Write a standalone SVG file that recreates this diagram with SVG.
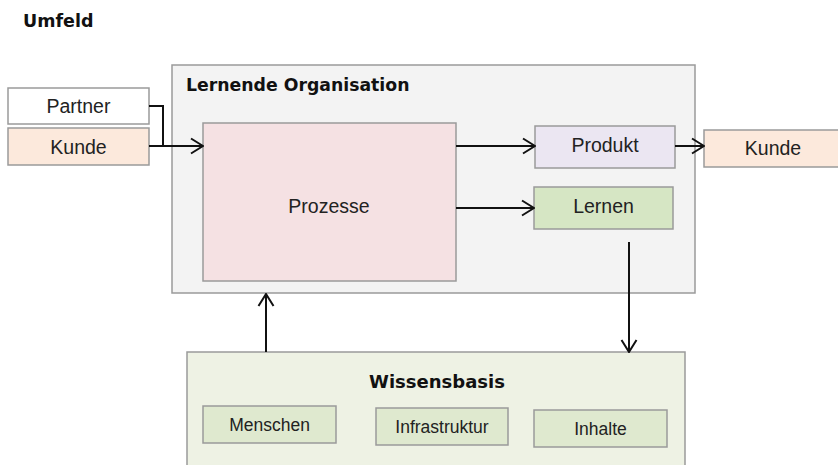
<svg xmlns="http://www.w3.org/2000/svg" width="838" height="465" viewBox="0 0 838 465">
<style>
.box{stroke:#9a9a9a;stroke-width:1.5}
.lbl{font-family:"Liberation Sans",Arial,sans-serif;font-size:19.5px;fill:#222;text-anchor:middle}
.sm{font-size:17.5px}
.ttl{font-family:"DejaVu Sans",Verdana,sans-serif;font-weight:bold;fill:#111}
.con{fill:none;stroke:#111;stroke-width:2}
</style>
<defs>
<marker id="ah" viewBox="0 0 14 18" refX="13" refY="9" markerWidth="14" markerHeight="18" markerUnits="userSpaceOnUse" orient="auto">
<path d="M1,1.5 L13,9 L1,16.5" fill="none" stroke="#111" stroke-width="2"/>
</marker>
</defs>
<rect width="838" height="465" fill="#fff"/>
<text class="ttl" x="23" y="27" font-size="17.5">Umfeld</text>
<g id="org">
<rect class="box" x="172" y="65" width="523" height="228" fill="#f3f3f3"/>
<text class="ttl" x="186" y="91" font-size="17.3">Lernende Organisation</text>
</g>
<g id="partner">
<rect class="box" x="8" y="88" width="141" height="36" fill="#ffffff"/>
<text class="lbl" x="78.5" y="113">Partner</text>
</g>
<g id="kunde-in">
<rect class="box" x="8" y="128" width="141" height="37" fill="#fce9dc"/>
<text class="lbl" x="78.5" y="154">Kunde</text>
</g>
<g id="prozesse">
<rect class="box" x="203" y="123" width="253" height="158" fill="#f5e1e3"/>
<text class="lbl" x="329" y="213">Prozesse</text>
</g>
<g id="produkt">
<rect class="box" x="535" y="126" width="140" height="42" fill="#ebe6f2"/>
<text class="lbl" x="605" y="152">Produkt</text>
</g>
<g id="lernen">
<rect class="box" x="534" y="187" width="139" height="42" fill="#d6e6c4"/>
<text class="lbl" x="603.5" y="213">Lernen</text>
</g>
<g id="kunde-out">
<rect class="box" x="704" y="130" width="140" height="37" fill="#fce9dc"/>
<text class="lbl" x="773" y="155">Kunde</text>
</g>
<g id="wissensbasis">
<rect class="box" x="187" y="352" width="498" height="120" fill="#eef2e4"/>
<text class="ttl" x="437" y="388" font-size="18" text-anchor="middle">Wissensbasis</text>
</g>
<g id="menschen">
<rect class="box" x="203" y="406" width="133" height="37" fill="#dfe9cf"/>
<text class="lbl sm" x="269.5" y="431">Menschen</text>
</g>
<g id="infrastruktur">
<rect class="box" x="376" y="408" width="132" height="37" fill="#dfe9cf"/>
<text class="lbl sm" x="442" y="433">Infrastruktur</text>
</g>
<g id="inhalte">
<rect class="box" x="534" y="410" width="133" height="37" fill="#dfe9cf"/>
<text class="lbl sm" x="600.5" y="435">Inhalte</text>
</g>
<g id="connectors">
<path class="con" d="M149,106 H163 V146"/>
<path class="con" d="M149,146 H203" marker-end="url(#ah)"/>
<path class="con" d="M456,146 H535" marker-end="url(#ah)"/>
<path class="con" d="M456,208 H534" marker-end="url(#ah)"/>
<path class="con" d="M675,146 H704" marker-end="url(#ah)"/>
<path class="con" d="M629,242 V352" marker-end="url(#ah)"/>
<path class="con" d="M266,352 V294" marker-end="url(#ah)"/>
</g>
</svg>
